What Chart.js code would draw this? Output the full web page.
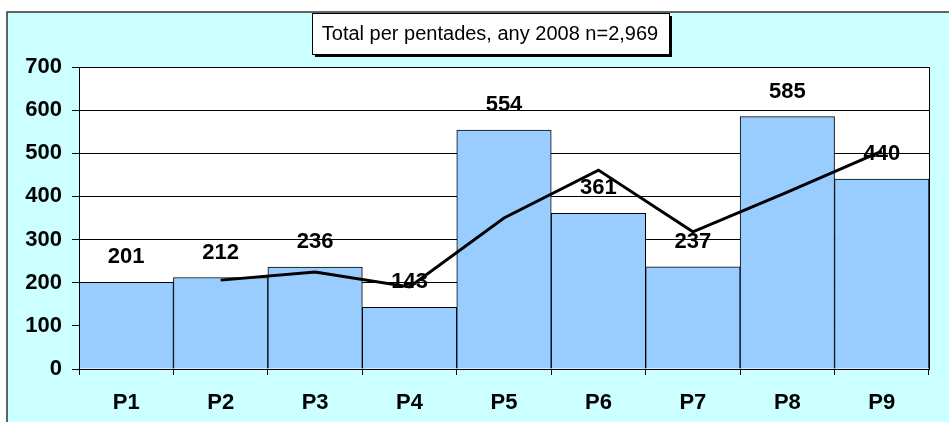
<!DOCTYPE html>
<html>
<head>
<meta charset="utf-8">
<script src="https://cdn.jsdelivr.net/npm/chart.js@4"></script>
<style>
  html, body { margin: 0; padding: 0; background: #fff; }
  #wrap { width: 949px; height: 422px; }
</style>
</head>
<body>
<div id="wrap"><canvas id="chart" width="949" height="422"></canvas></div>
<script>
// chart data
const categories = ["P1", "P2", "P3", "P4", "P5", "P6", "P7", "P8", "P9"];
const totals = [201, 212, 236, 143, 554, 361, 237, 585, 440];
const trendLine = [null, 206, 225, 190, 350, 461, 318, 410, 505];
const yTicks = [0, 100, 200, 300, 400, 500, 600, 700];
const titleText = "Total per pentades, any 2008 n=2,969";

const FONT = "Arial, 'Liberation Sans', sans-serif";

// background frame, plot area and title box
const framePlugin = {
  id: "frame",
  beforeDraw(chart) {
    const ctx = chart.ctx;
    const a = chart.chartArea;
    ctx.save();
    ctx.fillStyle = "#fff";
    ctx.fillRect(0, 0, chart.width, chart.height);
    ctx.fillStyle = "#CCFFFF";
    ctx.fillRect(7, 12, chart.width, chart.height);
    ctx.strokeStyle = "#333";
    ctx.lineWidth = 1.5;
    ctx.strokeRect(7, 12, chart.width + 10, chart.height + 10);
    ctx.fillStyle = "#fff";
    ctx.fillRect(a.left, a.top, a.right - a.left, a.bottom - a.top);
    ctx.restore();
  },
  afterDraw(chart) {
    const ctx = chart.ctx;
    const a = chart.chartArea;
    ctx.save();
    ctx.strokeStyle = "#000";
    ctx.lineWidth = 1;
    ctx.strokeRect(a.left + 0.5, a.top + 0.5, a.right - a.left, a.bottom - a.top);
    // title box with shadow
    ctx.fillStyle = "#000";
    ctx.fillRect(315, 16, 357, 41);
    ctx.fillStyle = "#fff";
    ctx.fillRect(312, 13, 357, 41);
    ctx.strokeRect(312.5, 13.5, 357, 41);
    ctx.fillStyle = "#000";
    ctx.font = "20px " + FONT;
    ctx.textAlign = "center";
    ctx.textBaseline = "middle";
    ctx.fillText(titleText, 490, 34);
    ctx.restore();
  }
};

// value labels above bars (drawn before the line)
const barLabels = {
  id: "barLabels",
  afterDatasetDraw(chart, args) {
    if (args.index !== 0) return;
    const ctx = chart.ctx;
    ctx.save();
    ctx.fillStyle = "#000";
    ctx.font = "bold 22px " + FONT;
    ctx.textAlign = "center";
    ctx.textBaseline = "middle";
    args.meta.data.forEach((bar, i) => {
      ctx.fillText(totals[i], bar.x, bar.y - 25);
    });
    ctx.restore();
  }
};

new Chart(document.getElementById("chart"), {
  data: {
    labels: categories,
    datasets: [
      {
        type: "bar",
        data: totals,
        backgroundColor: "#99CCFF",
        borderColor: "#000",
        borderWidth: 1,
        categoryPercentage: 1,
        barPercentage: 1,
        order: 2
      },
      {
        type: "line",
        data: trendLine,
        borderColor: "#000",
        borderWidth: 3,
        pointRadius: 0,
        tension: 0,
        fill: false,
        order: 1
      }
    ]
  },
  options: {
    responsive: false,
    animation: false,
    events: [],
    layout: { padding: { top: 67, right: 20, left: 0, bottom: 0 } },
    plugins: {
      legend: { display: false },
      title: { display: false },
      tooltip: { enabled: false }
    },
    scales: {
      x: {
        grid: { drawOnChartArea: false, drawTicks: true, tickLength: 6, color: "#000", offset: true },
        border: { color: "#000", width: 1 },
        ticks: { color: "#000", font: { family: FONT, size: 22, weight: "bold" }, padding: 15 },
        afterFit: s => { s.height = 53; }
      },
      y: {
        min: 0,
        max: 700,
        afterBuildTicks: s => { s.ticks = yTicks.map(v => ({ value: v })); },
        grid: { color: "#000", lineWidth: 1, drawTicks: true, tickLength: 7 },
        border: { color: "#000", width: 1 },
        ticks: { color: "#000", font: { family: FONT, size: 22, weight: "bold" }, padding: 10 },
        afterFit: s => { s.width = 79; }
      }
    }
  },
  plugins: [framePlugin, barLabels]
});
</script>
</body>
</html>
